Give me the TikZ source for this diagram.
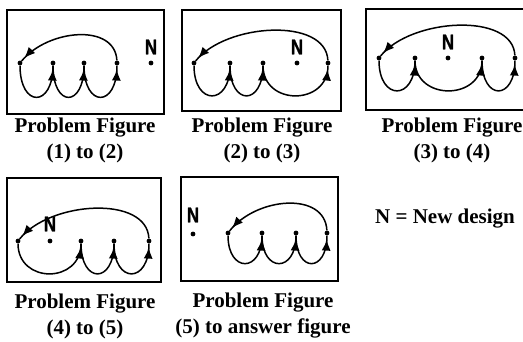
\documentclass[tikz,border=0pt]{standalone}
\usepackage{fontspec}
\setmainfont{Liberation Serif}
\newfontfamily\nfont[FakeBold=1.2]{Liberation Sans}
\usetikzlibrary{arrows.meta,decorations.markings}
\begin{document}
\begin{tikzpicture}[x=1pt,y=-1pt,
  frame/.style={draw,line width=1.6pt},
  dot/.style={circle,fill,inner sep=0pt,minimum size=4.8pt},
  nlab/.style={font=\nfont\bfseries\fontsize{17}{17}\selectfont,inner sep=0pt},
  figcap/.style={align=center,font=\bfseries\fontsize{21}{26}\selectfont,inner sep=0pt},
  loopline/.style={line width=1.5pt,postaction={decorate},
    decoration={markings,mark=at position -4pt with {\arrow{Latex[length=11pt,width=9pt]}}}},
  bigarc/.style={line width=1.5pt,postaction={decorate},
    decoration={markings,mark=at position -4pt with {\arrow{Latex[length=11pt,width=9pt]}}}}
]
\useasboundingbox (0,0) rectangle (523,342);

% ---------- Panel 1 ----------
\draw[frame] (7,10) rectangle (164,114);
\node[dot] (a1) at (20,63) {};
\node[dot] (b1) at (53,63) {};
\node[dot] (c1) at (84,63) {};
\node[dot] (d1) at (117,63) {};
\node[dot] (n1) at (151,63) {};
\node[nlab] (n1l) at (151,47) {\scalebox{1}[1.25]{N}};
\draw[bigarc] (d1) .. controls +(-2,-40) and +(28,-34) .. (a1);
\draw[loopline] (a1) .. controls +(0,45) and +(0,45) .. (b1);
\draw[loopline] (b1) .. controls +(0,45) and +(0,45) .. (c1);
\draw[loopline] (c1) .. controls +(0,45) and +(0,45) .. (d1);

% ---------- Panel 2 ----------
\draw[frame] (182,10) rectangle (341,111);
\node[dot] (a2) at (194,63) {};
\node[dot] (b2) at (230,63) {};
\node[dot] (c2) at (263,63) {};
\node[dot] (n2) at (297,63) {};
\node[dot] (d2) at (328,63) {};
\node[nlab] (n2l) at (297,47) {\scalebox{1}[1.25]{N}};
\draw[bigarc] (d2) .. controls +(-2,-46) and +(32,-40) .. (a2);
\draw[loopline] (a2) .. controls +(0,43) and +(0,43) .. (b2);
\draw[loopline] (b2) .. controls +(0,43) and +(0,43) .. (c2);
\draw[loopline] (c2) .. controls +(0,43) and +(0,43) .. (d2);

% ---------- Panel 3 ----------
\draw[frame] (524,9) -- (366,9) -- (366,110) -- (524,110);
\node[dot] (a3) at (379,58) {};
\node[dot] (b3) at (415,58) {};
\node[dot] (n3) at (448,58) {};
\node[dot] (c3) at (482,58) {};
\node[dot] (d3) at (515,58) {};
\node[nlab] (n3l) at (448,42) {\scalebox{1}[1.25]{N}};
\draw[bigarc] (d3) .. controls +(-2,-46) and +(32,-40) .. (a3);
\draw[loopline] (a3) .. controls +(0,43) and +(0,43) .. (b3);
\draw[loopline] (b3) .. controls +(0,43) and +(0,43) .. (c3);
\draw[loopline] (c3) .. controls +(0,43) and +(0,43) .. (d3);

% ---------- Panel 4 ----------
\draw[frame] (7,178) rectangle (161,282);
\node[dot] (a4) at (18,241) {};
\node[dot] (n4) at (50,241) {};
\node[dot] (b4) at (81,241) {};
\node[dot] (c4) at (114,241) {};
\node[dot] (d4) at (149,241) {};
\node[nlab] (n4l) at (50,224) {\scalebox{1}[1.25]{N}};
\draw[bigarc] (d4) .. controls +(-2,-46) and +(32,-40) .. (a4);
\draw[loopline] (a4) .. controls +(0,43) and +(0,43) .. (b4);
\draw[loopline] (b4) .. controls +(0,43) and +(0,43) .. (c4);
\draw[loopline] (c4) .. controls +(0,43) and +(0,43) .. (d4);

% ---------- Panel 5 ----------
\draw[frame] (181,177) rectangle (338,281);
\node[dot] (n5) at (193,234) {};
\node[nlab] (n5l) at (193,215) {\scalebox{1}[1.25]{N}};
\node[dot] (a5) at (228,233) {};
\node[dot] (b5) at (262,233) {};
\node[dot] (c5) at (296,233) {};
\node[dot] (d5) at (327,233) {};
\draw[bigarc] (d5) .. controls +(-2,-42) and +(28,-36) .. (a5);
\draw[loopline] (a5) .. controls +(0,40) and +(0,40) .. (b5);
\draw[loopline] (b5) .. controls +(0,40) and +(0,40) .. (c5);
\draw[loopline] (c5) .. controls +(0,40) and +(0,40) .. (d5);

% ---------- Captions ----------
\node[figcap] (t1) at (85,140) {Problem Figure\\(1) to (2)};
\node[figcap] (t2) at (262,140) {Problem Figure\\(2) to (3)};
\node[figcap] (t3) at (452,140) {Problem Figure\\(3) to (4)};
\node[figcap] (t4) at (85,316) {Problem Figure\\(4) to (5)};
\node[figcap] (t5) at (263,316) {Problem Figure\\(5) to answer figure};
\node[figcap] (legend) at (445,219) {N = New design};
\end{tikzpicture}
\end{document}
